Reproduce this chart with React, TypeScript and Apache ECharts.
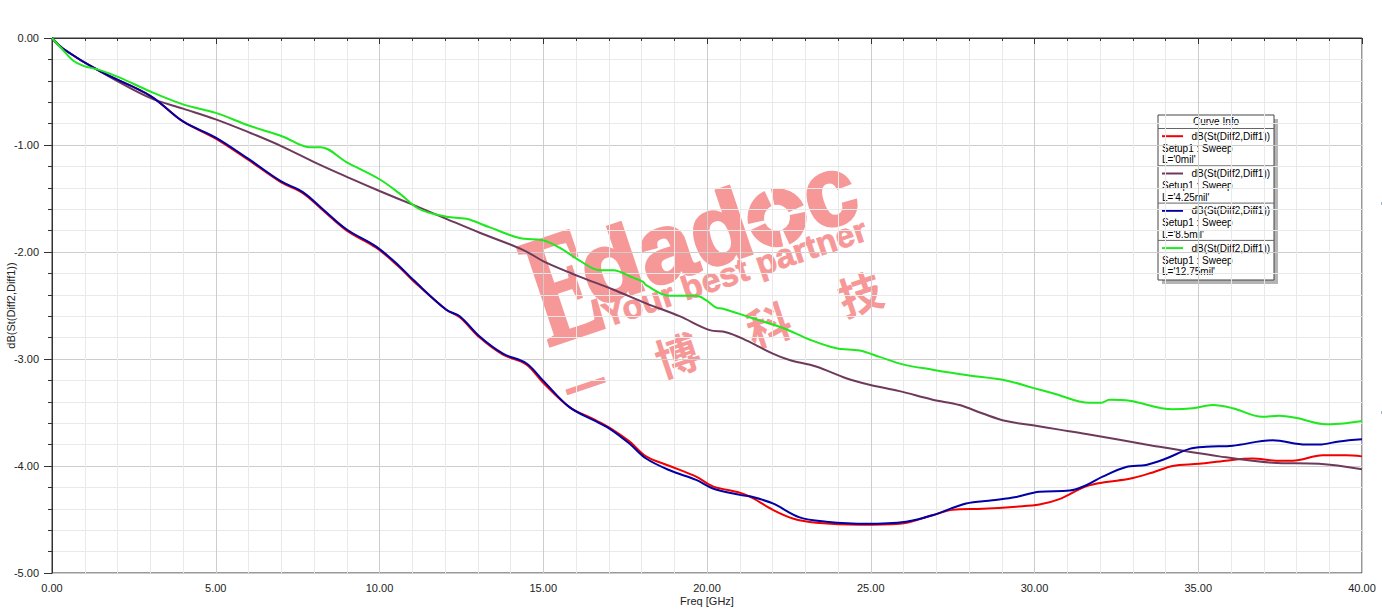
import React, { useEffect, useRef } from "react";
import * as echarts from "echarts";

// ---------- data ----------
const curveTitle = "Curve Info";
const curveLabel = "dB(St(Diff2,Diff1))";
const setupLabel = "Setup1 : Sweep";
const sweepNames = ["L='0mil'", "L='4.25mil'", "L='8.5mil'", "L='12.75mil'"];
const seriesColors = ["#f20000", "#6e3a5c", "#0000a6", "#1ee81e"];

const xAxisName = "Freq [GHz]";
const yAxisName = "dB(St(Diff2,Diff1))";
const xTickLabels = ["0.00", "5.00", "10.00", "15.00", "20.00", "25.00", "30.00", "35.00", "40.00"];
const yTickLabels = ["-5.00", "-4.00", "-3.00", "-2.00", "-1.00", "0.00"];

// [Freq GHz, dB]
const curve0mil: [number, number][] = [
  [0, 0], [0.34, -0.1], [1.46, -0.31], [3.0, -0.54], [4.0, -0.78], [5.0, -0.94], [6.0, -1.14],
  [7.0, -1.35], [7.66, -1.45], [8.27, -1.61], [9.0, -1.8], [9.9, -1.96], [10.6, -2.14],
  [11.03, -2.27], [12.04, -2.54], [12.45, -2.61], [13.06, -2.8], [13.77, -2.96], [14.48, -3.05],
  [14.99, -3.22], [15.8, -3.45], [16.52, -3.56], [17.02, -3.64], [17.63, -3.77], [18.14, -3.91],
  [18.86, -4.0], [19.67, -4.1], [20.18, -4.19], [21.0, -4.25], [21.4, -4.3], [22.01, -4.41],
  [22.62, -4.49], [23.33, -4.53], [24.66, -4.55], [25.88, -4.54], [26.89, -4.46], [27.5, -4.41],
  [28.42, -4.4], [29.44, -4.38], [30.15, -4.36], [30.76, -4.31], [31.58, -4.19], [32.19, -4.15],
  [32.9, -4.12], [33.61, -4.06], [34.22, -4.0], [35.03, -3.98], [35.84, -3.95], [36.66, -3.93],
  [37.37, -3.95], [37.88, -3.95], [38.8, -3.9], [39.51, -3.9], [40, -3.91],
];

const curve4p25mil: [number, number][] = [
  [0, 0], [0.34, -0.1], [1.46, -0.31], [3.0, -0.56], [4.0, -0.66], [5.0, -0.76], [6.0, -0.88],
  [7.0, -1.01], [8.07, -1.17], [9.09, -1.31], [10.0, -1.43], [11.03, -1.56], [12.04, -1.69],
  [13.06, -1.82], [14.38, -1.98], [15.09, -2.1], [16.11, -2.23], [17.13, -2.35], [18.14, -2.48],
  [19.16, -2.6], [20.08, -2.73], [20.58, -2.75], [21.09, -2.81], [22.01, -2.95], [22.52, -3.01],
  [23.33, -3.07], [24.25, -3.18], [24.96, -3.24], [25.88, -3.3], [26.89, -3.38], [27.71, -3.43],
  [28.42, -3.51], [29.13, -3.58], [29.95, -3.62], [30.76, -3.66], [31.58, -3.7], [33.61, -3.81],
  [35.64, -3.91], [37.27, -3.97], [38.69, -3.98], [40, -4.03],
];

const curve8p5mil: [number, number][] = [
  [0, 0], [0.34, -0.1], [1.46, -0.31], [3.0, -0.54], [4.0, -0.78], [5.0, -0.93], [6.0, -1.13],
  [7.0, -1.34], [7.66, -1.44], [8.27, -1.6], [9.0, -1.79], [9.9, -1.95], [10.6, -2.13],
  [11.03, -2.26], [12.04, -2.54], [12.45, -2.6], [13.06, -2.79], [13.77, -2.95], [14.48, -3.04],
  [14.99, -3.2], [15.8, -3.45], [16.52, -3.57], [17.02, -3.65], [17.63, -3.79], [18.14, -3.93],
  [18.86, -4.04], [19.67, -4.13], [20.18, -4.21], [21.0, -4.27], [21.4, -4.29], [22.01, -4.35],
  [22.83, -4.48], [23.64, -4.52], [24.86, -4.54], [26.08, -4.52], [26.89, -4.46], [27.91, -4.35],
  [28.72, -4.32], [29.44, -4.29], [30.15, -4.24], [31.07, -4.23], [31.58, -4.18], [32.08, -4.1],
  [32.8, -4.01], [33.41, -3.99], [34.02, -3.93], [34.73, -3.84], [35.24, -3.82], [36.05, -3.81],
  [37.27, -3.76], [38.29, -3.8], [38.69, -3.8], [39.3, -3.77], [40, -3.75],
];

const curve12p75mil: [number, number][] = [
  [0, 0], [0.3, -0.1], [0.64, -0.21], [0.96, -0.26], [1.46, -0.3], [2.07, -0.37], [3.0, -0.5],
  [4.0, -0.62], [5.0, -0.7], [6.03, -0.82], [7.04, -0.92], [7.86, -1.02], [8.2, -1.02],
  [8.99, -1.16], [10.0, -1.32], [10.6, -1.45], [11.22, -1.6], [12.04, -1.67], [12.65, -1.69],
  [13.37, -1.77], [14.28, -1.87], [14.99, -1.89], [15.5, -1.96], [16.11, -2.08], [16.72, -2.17],
  [17.13, -2.17], [17.74, -2.24], [18.05, -2.28], [18.14, -2.31], [18.86, -2.41], [19.67, -2.41],
  [19.97, -2.45], [20.28, -2.52], [20.49, -2.53], [21.3, -2.61], [22.32, -2.71], [23.14, -2.82],
  [23.95, -2.9], [24.66, -2.92], [25.27, -2.98], [25.98, -3.05], [26.89, -3.1], [27.91, -3.15],
  [29.13, -3.2], [29.95, -3.27], [30.56, -3.32], [31.68, -3.41], [32.04, -3.41], [32.29, -3.38],
  [32.9, -3.39], [34.22, -3.47], [34.83, -3.46], [35.44, -3.43], [36.05, -3.46], [36.96, -3.54],
  [37.47, -3.53], [37.98, -3.55], [38.9, -3.61], [39.51, -3.6], [40, -3.58],
];

const curves = [curve0mil, curve4p25mil, curve8p5mil, curve12p75mil];

// watermark texts
const wmBig = "E";
const wmWord1 = "dad";
const wmWord2 = "c";
const wmSlogan = "Your best partner";
const wmChars = ["一", "博", "科", "技"];

const FONT = '"Liberation Sans", Arial, sans-serif';

function buildOption() {
  const wmFill = "#f79898";
  const deg = Math.PI / 180;

  // crosshair "o" (four quarter segments)
  const oCx = 258;
  const oCy = -49;
  const gap = 13 * deg;
  const quarters = [0, 1, 2, 3].map((k) => ({
    type: "sector",
    shape: {
      cx: oCx,
      cy: oCy,
      r0: 13,
      r: 29.5,
      startAngle: k * 90 * deg + gap / 2,
      endAngle: (k + 1) * 90 * deg - gap / 2,
    },
    style: { fill: wmFill },
  }));

  const txt = (text: string, x: number, y: number, font: string, align = "left", scaleX = 1, stroke = 0) => ({
    type: "text",
    x,
    y,
    scaleX,
    style: {
      text, x: 0, y: 0, font, fill: wmFill, align, verticalAlign: "middle",
      stroke: stroke > 0 ? wmFill : undefined,
      lineWidth: stroke,
    },
  });

  const watermark = {
    type: "group",
    x: 548,
    y: 346,
    rotation: 18.5 * deg,
    z: 1,
    silent: true,
    children: [
      txt(wmBig, 0, -53, 'bold 158px "Liberation Serif", serif', "left", 0.62, 3),
      txt(wmWord1, 55, -23 - 34, `bold 98px ${FONT}`, "left", 1, 3),
      ...quarters,
      txt(wmWord2, 289, -23 - 34, `bold 98px ${FONT}`, "left", 0.95, 3),
      txt(wmSlogan, 62, 1 - 11.6, `bold 33.5px ${FONT}`, "left", 1, 0.8),
      ...wmChars.map((c, i) => txt(c, 23 + i * 96.5, 48, 'bold 44px "Noto Sans CJK SC", sans-serif', "center")),
    ],
  };

  // legend box ("Curve Info")
  const lx = 1158;
  const ly = 115;
  const lw = 116;
  const lh = 165;
  const entryTop = 128.5;
  const entryH = 37.3;
  const legendFont = `10px ${FONT}`;
  const legendChildren: any[] = [
    { type: "rect", shape: { x: lx + 4, y: ly + 4, width: lw, height: lh }, style: { fill: "#b4b4b4" } },
    { type: "rect", shape: { x: lx, y: ly, width: lw, height: lh }, style: { fill: "#ffffff", stroke: "#444", lineWidth: 1 } },
    {
      type: "text",
      style: { text: curveTitle, x: lx + lw / 2, y: 121.7, font: legendFont, fill: "#000", align: "center", verticalAlign: "middle" },
    },
  ];
  sweepNames.forEach((name, i) => {
    const top = entryTop + i * entryH;
    legendChildren.push({
      type: "line",
      shape: { x1: lx, y1: top, x2: lx + lw, y2: top },
      style: { stroke: "#666", lineWidth: 1 },
    });
    legendChildren.push({
      type: "line",
      shape: { x1: lx + 4, y1: top + 7.7, x2: lx + 25, y2: top + 7.7 },
      style: { stroke: seriesColors[i], lineWidth: 2 },
    });
    legendChildren.push({
      type: "text",
      style: { text: curveLabel, x: lx + 33.5, y: top + 7.7, font: legendFont, fill: "#000", align: "left", verticalAlign: "middle" },
    });
    legendChildren.push({
      type: "text",
      style: { text: setupLabel, x: lx + 4, y: top + 19.8, font: legendFont, fill: "#000", align: "left", verticalAlign: "middle" },
    });
    legendChildren.push({
      type: "text",
      style: { text: name, x: lx + 4, y: top + 31.3, font: legendFont, fill: "#000", align: "left", verticalAlign: "middle" },
    });
  });

  const legend = { type: "group", z: 110, silent: true, children: legendChildren };

  const edgeMarks = [
    { type: "rect", shape: { x: 1381, y: 202, width: 1, height: 3 }, style: { fill: "#8fb4cc" } },
    { type: "rect", shape: { x: 1381, y: 411, width: 1, height: 3 }, style: { fill: "#8fb4cc" } },
  ];

  return {
    animation: false,
    backgroundColor: "#ffffff",
    grid: {
      left: 52,
      right: 20,
      top: 38,
      bottom: 37,
      outerBoundsMode: "none",
      containLabel: false,
      show: true,
      borderColor: "#333",
      borderWidth: 1,
      backgroundColor: "transparent",
    },
    xAxis: {
      type: "value",
      min: 0,
      max: 40,
      interval: 5,
      name: xAxisName,
      nameLocation: "middle",
      nameGap: 22,
      nameMoveOverlap: false,
      nameTextStyle: { fontSize: 11, color: "#222", fontFamily: FONT },
      axisLine: { show: true, lineStyle: { color: "#333", width: 1 } },
      axisTick: { show: true, length: 6, lineStyle: { color: "#333" } },
      minorTick: { show: true, splitNumber: 5, length: 3, lineStyle: { color: "#333" } },
      axisLabel: {
        margin: 9,
        fontSize: 11,
        color: "#222",
        fontFamily: FONT,
        formatter: (v: number) => xTickLabels[Math.round(v / 5)] ?? v.toFixed(2),
      },
      splitLine: { show: true, lineStyle: { color: "#cdcdcd", width: 1 } },
      minorSplitLine: { show: true, lineStyle: { color: "#e9e9e9", width: 1 } },
    },
    yAxis: {
      type: "value",
      min: -5,
      max: 0,
      interval: 1,
      name: yAxisName,
      nameLocation: "middle",
      nameGap: 36,
      nameMoveOverlap: false,
      nameRotate: 90,
      nameTextStyle: { fontSize: 11, color: "#222", fontFamily: FONT },
      axisLine: { show: true, lineStyle: { color: "#333", width: 1 } },
      axisTick: { show: true, length: 8, lineStyle: { color: "#333" } },
      minorTick: { show: true, splitNumber: 5, length: 4, lineStyle: { color: "#333" } },
      axisLabel: {
        margin: 13,
        fontSize: 11,
        color: "#222",
        fontFamily: FONT,
        formatter: (v: number) => yTickLabels[Math.round(v + 5)] ?? v.toFixed(2),
      },
      splitLine: { show: true, lineStyle: { color: "#cdcdcd", width: 1 } },
      minorSplitLine: { show: true, lineStyle: { color: "#e9e9e9", width: 1 } },
    },
    series: curves.map((data, i) => ({
      type: "line",
      name: sweepNames[i],
      data,
      showSymbol: false,
      smooth: 0.35,
      lineStyle: { color: seriesColors[i], width: 2 },
      itemStyle: { color: seriesColors[i] },
      z: 2 + i,
    })),
    graphic: [watermark, legend, ...edgeMarks],
  };
}

export default function App() {
  const ref = useRef<HTMLDivElement>(null);
  useEffect(() => {
    document.body.style.margin = "0";
    const chart = echarts.init(ref.current as HTMLDivElement, null, { renderer: "svg" });
    chart.setOption(buildOption() as any);
    return () => chart.dispose();
  }, []);
  return <div ref={ref} style={{ width: 1382, height: 610 }} />;
}
